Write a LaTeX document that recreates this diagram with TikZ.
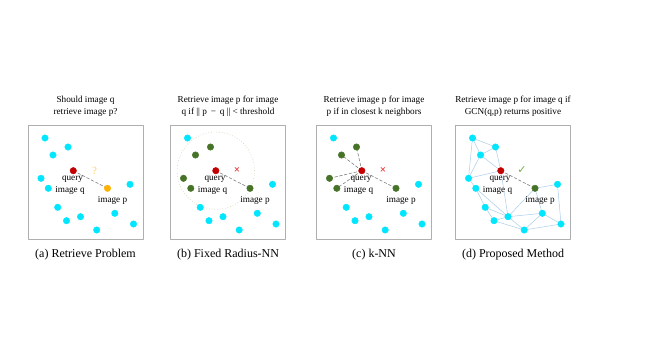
\documentclass[tikz,border=0pt]{standalone}
\usepackage{fontspec}
\setmainfont{Liberation Serif}
\newfontfamily\symfont{DejaVu Sans}
\usetikzlibrary{calc}
\usepackage{tkz-euclide}
\definecolor{DotCyan}{RGB}{0,230,255}
\definecolor{DotRed}{RGB}{195,0,0}
\definecolor{DotOrange}{RGB}{255,178,0}
\definecolor{DotGreen}{RGB}{70,115,40}
\definecolor{MarkClr}{RGB}{255,205,110}
\definecolor{CrossClr}{RGB}{230,40,40}
\definecolor{CheckClr}{RGB}{120,175,75}
\definecolor{EdgeClr}{RGB}{170,205,235}
\definecolor{BoxClr}{RGB}{175,175,175}
\definecolor{RingClr}{RGB}{215,212,190}

% same layout of samples in every panel
\newcommand{\DefSamples}{%
\tkzDefPoints{28/125/TL,143/125/TR,143/239/BR,28/239/BL}%
\tkzDefPoints{45/138/N1,68/147/N2,53/155/N3,41/178.3/N4,48.3/188.3/N5,130/184.3/N6}%
\tkzDefPoints{57.7/207.3/N7,66.5/220.7/N8,80.5/216.7/N9,114.8/213.3/N10,133.5/224/N11,96.7/230/N12}%
\tkzDefPoints{73.3/170.7/Q,107.5/188.3/P,94.5/170.5/M,85.5/106.5/T,85.5/255/C}}

\tikzset{
  txt/.style={font=\fontsize{9.2}{11.6}\selectfont,inner sep=0pt,align=center},
  captxt/.style={font=\fontsize{12}{14}\selectfont,inner sep=0pt},
  marktxt/.style={font=\fontsize{11}{12}\selectfont,inner sep=0pt},
  link/.style={color=gray,line width=0.6pt,dash pattern=on 3pt off 2pt}
}

\begin{document}
\begin{tikzpicture}[x=1pt,y=-1pt]
\useasboundingbox (0,0) rectangle (663,348);
\tkzSetUpLine[line width=0.8pt,color=BoxClr]
\tkzSetUpPoint[size=6.5]

% (a)
\begin{scope}
\DefSamples
\tkzDrawPolygon(TL,TR,BR,BL)
\tkzDrawSegments[link](Q,P)
\tkzDrawPoints[color=DotCyan,fill=DotCyan](N1,N2,N3,N4,N5,N6,N7,N8,N9,N10,N11,N12)
\tkzDrawPoints[color=DotRed,fill=DotRed](Q)
\tkzDrawPoints[color=DotOrange,fill=DotOrange](P)
\node[marktxt,text=MarkClr] (ma) at (M) {?};
\node[txt] (qa) at (72.5,179) {query};
\node[txt] (qia) at (70,190.5) {image q};
\node[txt] (pia) at (112.5,200) {image p};
\node[txt] (ta) at (T) {Should image q\\retrieve image p?};
\node[captxt] (ca) at (C) {(a) Retrieve Problem};
\end{scope}

% (b)
\begin{scope}[xshift=142.5pt]
\DefSamples
\tkzDrawPolygon(TL,TR,BR,BL)
\draw[RingClr,line width=0.7pt,dotted] (Q) circle (38.7pt);
\tkzDrawSegments[link](Q,P)
\tkzDrawPoints[color=DotCyan,fill=DotCyan](N1,N6,N7,N8,N9,N10,N11,N12)
\tkzDrawPoints[color=DotGreen,fill=DotGreen](N2,N3,N4,N5,P)
\tkzDrawPoints[color=DotRed,fill=DotRed](Q)
\node[marktxt,text=CrossClr] (mb) at (M) {\textbf{×}};
\node[txt] (qb) at (72.5,179) {query};
\node[txt] (qib) at (70,190.5) {image q};
\node[txt] (pib) at (112.5,200) {image p};
\node[txt] (tb) at (T) {Retrieve image p for image\\q if || p \,−\, q || < threshold};
\node[captxt] (cb) at (C) {(b) Fixed Radius-NN};
\end{scope}

% (c)
\begin{scope}[xshift=288.5pt]
\DefSamples
\tkzDrawPolygon(TL,TR,BR,BL)
\tkzDrawSegments[link](Q,N2 Q,N3 Q,N4 Q,N5 Q,P)
\tkzDrawPoints[color=DotCyan,fill=DotCyan](N1,N6,N7,N8,N9,N10,N11,N12)
\tkzDrawPoints[color=DotGreen,fill=DotGreen](N2,N3,N4,N5,P)
\tkzDrawPoints[color=DotRed,fill=DotRed](Q)
\node[marktxt,text=CrossClr] (mc) at (M) {\textbf{×}};
\node[txt] (qc) at (72.5,179) {query};
\node[txt] (qic) at (70,190.5) {image q};
\node[txt] (pic) at (112.5,200) {image p};
\node[txt] (tc) at (T) {Retrieve image p for image\\p if in closest k neighbors};
\node[captxt] (cc) at (C) {(c) k-NN};
\end{scope}

% (d)
\begin{scope}[xshift=427.5pt]
\DefSamples
\tkzDrawPolygon(TL,TR,BR,BL)
\tkzDrawSegments[color=EdgeClr,line width=0.5pt](N1,N2 N1,N3 N1,N4 N2,N3 N2,Q N3,Q N3,N4 N4,Q N4,N5
  N5,N7 N5,N9 Q,N9 N7,N8 N7,N9 N8,N9 N8,N12 N9,N12 N9,N10 N9,P
  P,N6 P,N10 N6,N11 N10,N11 N10,N12 N12,N11)
\tkzDrawSegments[link](Q,P)
\tkzDrawPoints[color=DotCyan,fill=DotCyan](N1,N2,N3,N4,N5,N6,N7,N8,N9,N10,N11,N12)
\tkzDrawPoints[color=DotGreen,fill=DotGreen](P)
\tkzDrawPoints[color=DotRed,fill=DotRed](Q)
\node[marktxt,text=CheckClr] (md) at (M) {\symfont ✓};
\node[txt] (qd) at (72.5,179) {query};
\node[txt] (qid) at (70,190.5) {image q};
\node[txt] (pid) at (112.5,200) {image p};
\node[txt] (td) at (T) {Retrieve image p for image q if\\GCN(q,p) returns positive};
\node[captxt] (cd) at (C) {(d) Proposed Method};
\end{scope}

\end{tikzpicture}
\end{document}
